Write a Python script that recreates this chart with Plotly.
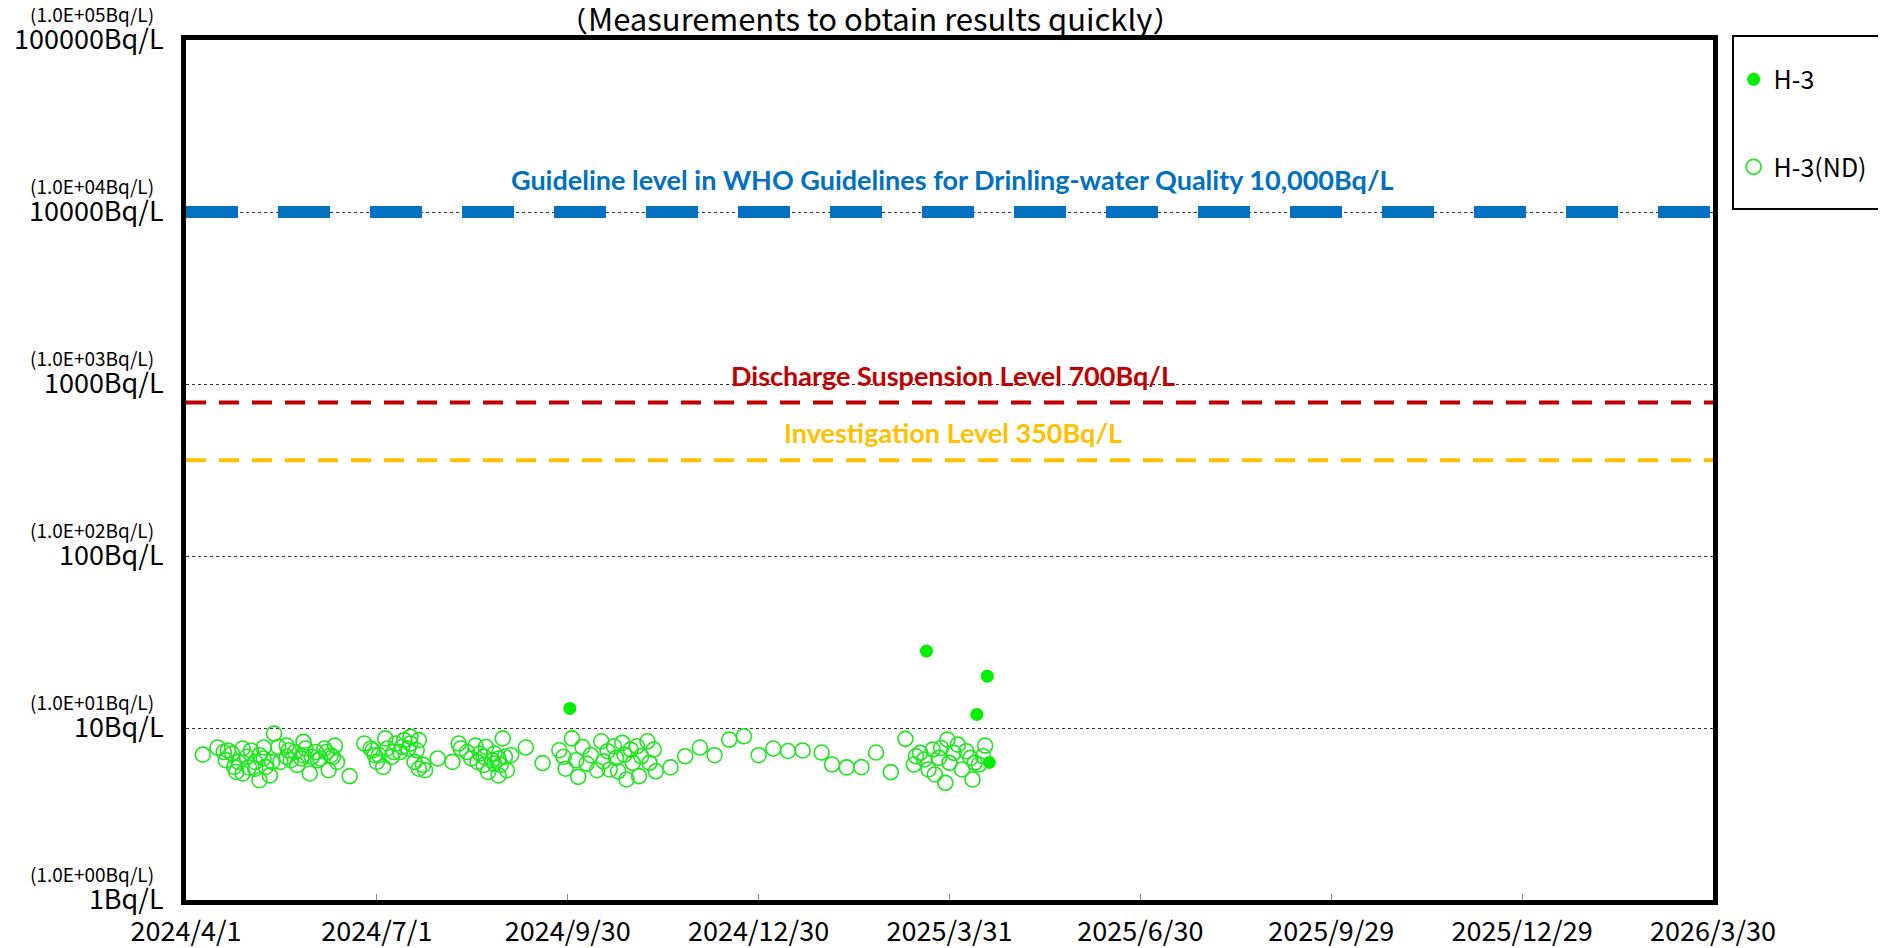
import pandas as pd
import numpy as np
import plotly.graph_objects as go

# ---------------- data ----------------
nd_dates = [
    "2024-04-09", "2024-04-16", "2024-04-21", "2024-04-20", "2024-04-23", "2024-04-25", "2024-04-26",
    "2024-04-28", "2024-04-30", "2024-05-01", "2024-05-02", "2024-05-04", "2024-05-06", "2024-05-06",
    "2024-05-08", "2024-05-09", "2024-05-11", "2024-05-12", "2024-05-13", "2024-05-15", "2024-05-19",
    "2024-05-19", "2024-05-21", "2024-05-23", "2024-05-24", "2024-05-27", "2024-05-27", "2024-05-30",
    "2024-05-31", "2024-06-02", "2024-06-04", "2024-06-06", "2024-06-08", "2024-06-09", "2024-06-11",
    "2024-06-12", "2024-06-18",
    "2024-04-19", "2024-04-24", "2024-04-28", "2024-05-04", "2024-05-08", "2024-05-16", "2024-05-20",
    "2024-05-26", "2024-05-28", "2024-06-03", "2024-06-10", "2024-06-07",
    "2024-06-25", "2024-06-29", "2024-06-30", "2024-07-01", "2024-07-04", "2024-07-05", "2024-07-06",
    "2024-07-08", "2024-07-10", "2024-07-12", "2024-07-14", "2024-07-16", "2024-07-17", "2024-07-20",
    "2024-07-21", "2024-07-19", "2024-07-21", "2024-07-24", "2024-07-30",
    "2024-06-28", "2024-07-02", "2024-07-09", "2024-07-13", "2024-07-17", "2024-07-23",
    "2024-08-06", "2024-08-09", "2024-08-13", "2024-08-15", "2024-08-17", "2024-08-19", "2024-08-21",
    "2024-08-22", "2024-08-23", "2024-08-25", "2024-08-26", "2024-08-28", "2024-08-29", "2024-08-30",
    "2024-09-01", "2024-09-03", "2024-09-10", "2024-09-18",
    "2024-08-10", "2024-08-18", "2024-08-21", "2024-08-26", "2024-08-28", "2024-08-31",
    "2024-09-26", "2024-09-28", "2024-09-29", "2024-10-02", "2024-10-04", "2024-10-05", "2024-10-07",
    "2024-10-09", "2024-10-11", "2024-10-14", "2024-10-16", "2024-10-17", "2024-10-19", "2024-10-20",
    "2024-10-22", "2024-10-23", "2024-10-24", "2024-10-26", "2024-10-27", "2024-10-28", "2024-10-30",
    "2024-10-31", "2024-11-02", "2024-11-03", "2024-11-04", "2024-11-07", "2024-11-08", "2024-11-10",
    "2024-11-11",
    "2024-11-18", "2024-11-25", "2024-12-02", "2024-12-09", "2024-12-16", "2024-12-23", "2024-12-30",
    "2025-01-06", "2025-01-13", "2025-01-20", "2025-01-29", "2025-02-03", "2025-02-10", "2025-02-17",
    "2025-02-24", "2025-03-03", "2025-03-10",
    "2025-03-14", "2025-03-15", "2025-03-17", "2025-03-19", "2025-03-21", "2025-03-23", "2025-03-24",
    "2025-03-26", "2025-03-27", "2025-03-29", "2025-03-30", "2025-03-31", "2025-04-02", "2025-04-04",
    "2025-04-06", "2025-04-08", "2025-04-10", "2025-04-11", "2025-04-14", "2025-04-17", "2025-04-16",
    "2025-04-12",
]
nd_values = [
    7.0, 7.7, 7.4, 6.5, 7.1, 5.55, 6.35,
    7.6, 6.8, 5.9, 7.4, 6.35, 4.97, 6.95,
    7.7, 5.94, 5.3, 6.35, 9.28, 7.76, 7.9,
    6.8, 6.5, 7.25, 6.1, 8.3, 6.95, 5.44,
    6.8, 7.25, 6.65, 7.6, 5.68, 6.95, 7.9,
    6.35, 5.25,
    7.25, 5.94, 5.44, 5.8, 6.65, 6.35, 7.42,
    6.65, 7.6, 6.5, 6.8, 7.25,
    8.12, 7.42, 6.95, 6.35, 5.94, 8.7, 7.6,
    6.8, 8.12, 7.25, 8.5, 7.6, 8.88, 7.42,
    8.5, 6.35, 5.8, 5.68, 6.65,
    7.6, 6.95, 7.25, 7.76, 8.12, 6.1,
    6.35, 8.12, 7.25, 6.65, 7.9, 7.1, 6.1,
    7.76, 5.55, 6.5, 7.1, 5.3, 6.1, 8.7,
    5.68, 6.95, 7.7, 6.25,
    7.6, 6.35, 6.8, 6.21, 6.65, 6.8,
    7.42, 6.8, 5.8, 8.7, 6.5, 5.2, 7.76,
    6.21, 6.95, 5.68, 8.37, 6.4, 7.33, 5.74,
    7.83, 6.7, 5.6, 8.19, 7.0, 5.02, 7.49,
    6.27, 7.83, 5.25, 6.85, 8.37, 6.27, 7.49,
    5.6,
    5.9, 6.85, 7.7, 6.95, 8.56, 8.95, 6.95,
    7.6, 7.35, 7.4, 7.2, 6.13, 5.9, 5.92,
    7.2, 5.54, 8.65,
    6.13, 6.85, 7.17, 6.56, 5.74, 7.49, 5.37,
    6.7, 7.65, 4.80, 8.56, 6.27, 7.17, 8.0,
    5.74, 7.33, 6.7, 5.02, 6.13, 7.9, 6.85,
    6.27,
]
det_dates = ["2024-10-01", "2025-03-20", "2025-04-13", "2025-04-18", "2025-04-19"]
det_values = [13.0, 28.0, 12.0, 20.0, 6.3]

level_names = ["Guideline level in WHO Guidelines for Drinling-water Quality 10,000Bq/L",
               "Discharge Suspension Level 700Bq/L",
               "Investigation Level 350Bq/L"]
level_values = [10000, 780, 360]
level_colors = ["#0070C0", "#C00000", "#FFC000"]

x_tick_labels = ["2024/4/1", "2024/7/1", "2024/9/30", "2024/12/30", "2025/3/31",
                 "2025/6/30", "2025/9/29", "2025/12/29", "2026/3/30"]
y_tick_values = [1, 10, 100, 1000, 10000, 100000]
y_tick_labels = ["1Bq/L", "10Bq/L", "100Bq/L", "1000Bq/L", "10000Bq/L", "100000Bq/L"]
y_tick_sci = ["(1.0E+00Bq/L)", "(1.0E+01Bq/L)", "(1.0E+02Bq/L)", "(1.0E+03Bq/L)",
              "(1.0E+04Bq/L)", "(1.0E+05Bq/L)"]

title_text = "（Measurements to obtain results quickly）"

# ---------------- figure ----------------
JP = "Noto Sans CJK JP"
x_ticks = pd.to_datetime(x_tick_labels, format="%Y/%m/%d")
x_start, x_end = x_ticks[0], x_ticks[-1]

fig = go.Figure()

# reference level lines
dash_styles = ["52px,40px", "20px,13px", "20px,13px"]
widths = [12, 4, 4]
yshifts = [33, 27, 28]
for name, val, col, dsh, w, ys in zip(level_names, level_values, level_colors, dash_styles, widths, yshifts):
    fig.add_trace(go.Scatter(x=[x_start, x_end], y=[val, val], mode="lines",
                             line=dict(color=col, width=w, dash=dsh),
                             showlegend=False, hoverinfo="skip"))
    fig.add_annotation(x=0.502, xref="paper", y=np.log10(val), yref="y", yshift=ys,
                       text="<b>" + name + "</b>", showarrow=False,
                       font=dict(family="Lato", size=27, color=col),
                       xanchor="center", yanchor="middle")

fig.add_trace(go.Scatter(x=pd.to_datetime(det_dates), y=det_values, mode="markers", name="H-3",
                         legendgroup="a",
                         marker=dict(symbol="circle", size=13, color="#00F000")))
fig.add_trace(go.Scatter(x=pd.to_datetime(nd_dates), y=nd_values, mode="markers", name="H-3(ND)",
                         legendgroup="b",
                         marker=dict(symbol="circle-open", size=15, color="#1EE61E",
                                     line=dict(width=1.6))))

for v, s in zip(y_tick_values, y_tick_sci):
    fig.add_annotation(x=-0.0196, xref="paper", y=np.log10(v), yref="y", yshift=27,
                       text=s, showarrow=False, xanchor="right", yanchor="middle",
                       font=dict(family=JP, size=19, color="black"))

fig.add_annotation(x=0.4478, xref="paper", y=(892 - 10) / 860, yref="paper", text=title_text,
                   showarrow=False, xanchor="center", yanchor="middle",
                   font=dict(family=JP, size=31, color="black"))

# legend box
fig.add_shape(type="rect", xref="paper", yref="paper", x0=1.0131, x1=1.13, y0=0.8035, y1=1.0047,
              line=dict(color="black", width=2), fillcolor="rgba(0,0,0,0)")

fig.update_layout(
    width=1878, height=940,
    margin=dict(l=178, r=173, t=32, b=48, autoexpand=False),
    paper_bgcolor="white", plot_bgcolor="white",
    font=dict(family=JP, color="black"),
    showlegend=True,
    legend=dict(x=1.0135, y=0.9807, xanchor="left", yanchor="top",
                font=dict(family=JP, size=25, color="black"),
                bgcolor="rgba(0,0,0,0)", borderwidth=0, tracegroupgap=52,
                traceorder="grouped"),
    xaxis=dict(range=[x_start, x_end], tickmode="array", tickvals=list(x_ticks),
               ticktext=x_tick_labels, ticks="inside", ticklen=6, tickcolor="#888",
               showgrid=False, zeroline=False, automargin=False,
               showline=True, linecolor="black", linewidth=5, mirror=True,
               tickfont=dict(family=JP, size=27, color="black"), ticklabelstandoff=4),
    yaxis=dict(type="log", range=[0, 5], tickmode="array", tickvals=y_tick_values,
               ticktext=y_tick_labels, ticks="", showgrid=True, gridcolor="#333",
               griddash="dot", gridwidth=1, zeroline=False, automargin=False,
               showline=True, linecolor="black", linewidth=5, mirror=True,
               tickfont=dict(family=JP, size=27, color="black"), ticklabelstandoff=12),
)

fig.write_html("out.html")
